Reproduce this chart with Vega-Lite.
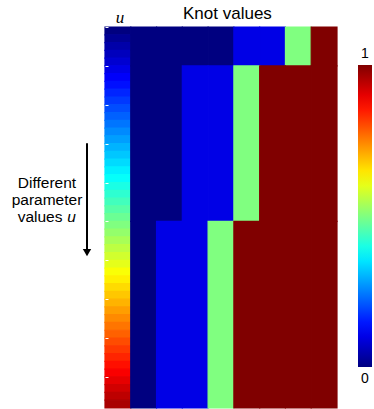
{
  "$schema": "https://vega.github.io/schema/vega-lite/v6.json",
  "width": 232,
  "height": 381,
  "autosize": "none",
  "padding": {"left": 105, "top": 27, "right": 37, "bottom": 1},
  "background": "white",
  "config": {"view": {"stroke": null}, "font": "Liberation Sans"},
  "datasets": {
    "ucol": [
      {"u": 0.00, "u2": 0.02}, {"u": 0.02, "u2": 0.04}, {"u": 0.04, "u2": 0.06}, {"u": 0.06, "u2": 0.08},
      {"u": 0.08, "u2": 0.10}, {"u": 0.10, "u2": 0.12}, {"u": 0.12, "u2": 0.14}, {"u": 0.14, "u2": 0.16},
      {"u": 0.16, "u2": 0.18}, {"u": 0.18, "u2": 0.20}, {"u": 0.20, "u2": 0.22}, {"u": 0.22, "u2": 0.24},
      {"u": 0.24, "u2": 0.26}, {"u": 0.26, "u2": 0.28}, {"u": 0.28, "u2": 0.30}, {"u": 0.30, "u2": 0.32},
      {"u": 0.32, "u2": 0.34}, {"u": 0.34, "u2": 0.36}, {"u": 0.36, "u2": 0.38}, {"u": 0.38, "u2": 0.40},
      {"u": 0.40, "u2": 0.42}, {"u": 0.42, "u2": 0.44}, {"u": 0.44, "u2": 0.46}, {"u": 0.46, "u2": 0.48},
      {"u": 0.48, "u2": 0.50}, {"u": 0.50, "u2": 0.52}, {"u": 0.52, "u2": 0.54}, {"u": 0.54, "u2": 0.56},
      {"u": 0.56, "u2": 0.58}, {"u": 0.58, "u2": 0.60}, {"u": 0.60, "u2": 0.62}, {"u": 0.62, "u2": 0.64},
      {"u": 0.64, "u2": 0.66}, {"u": 0.66, "u2": 0.68}, {"u": 0.68, "u2": 0.70}, {"u": 0.70, "u2": 0.72},
      {"u": 0.72, "u2": 0.74}, {"u": 0.74, "u2": 0.76}, {"u": 0.76, "u2": 0.78}, {"u": 0.78, "u2": 0.80},
      {"u": 0.80, "u2": 0.82}, {"u": 0.82, "u2": 0.84}, {"u": 0.84, "u2": 0.86}, {"u": 0.86, "u2": 0.88},
      {"u": 0.88, "u2": 0.90}, {"u": 0.90, "u2": 0.92}, {"u": 0.92, "u2": 0.94}, {"u": 0.94, "u2": 0.96},
      {"u": 0.96, "u2": 0.98}
    ],
    "knots": [
      {"col": "1", "u": 0, "u2": 0.1, "knot": 0}, {"col": "2", "u": 0, "u2": 0.1, "knot": 0},
      {"col": "3", "u": 0, "u2": 0.1, "knot": 0}, {"col": "4", "u": 0, "u2": 0.1, "knot": 0},
      {"col": "5", "u": 0, "u2": 0.1, "knot": 0.1}, {"col": "6", "u": 0, "u2": 0.1, "knot": 0.1},
      {"col": "7", "u": 0, "u2": 0.1, "knot": 0.5}, {"col": "8", "u": 0, "u2": 0.1, "knot": 1},
      {"col": "1", "u": 0.1, "u2": 0.5, "knot": 0}, {"col": "2", "u": 0.1, "u2": 0.5, "knot": 0},
      {"col": "3", "u": 0.1, "u2": 0.5, "knot": 0.1}, {"col": "4", "u": 0.1, "u2": 0.5, "knot": 0.1},
      {"col": "5", "u": 0.1, "u2": 0.5, "knot": 0.5}, {"col": "6", "u": 0.1, "u2": 0.5, "knot": 1},
      {"col": "7", "u": 0.1, "u2": 0.5, "knot": 1}, {"col": "8", "u": 0.1, "u2": 0.5, "knot": 1},
      {"col": "1", "u": 0.5, "u2": 0.98, "knot": 0}, {"col": "2", "u": 0.5, "u2": 0.98, "knot": 0.1},
      {"col": "3", "u": 0.5, "u2": 0.98, "knot": 0.1}, {"col": "4", "u": 0.5, "u2": 0.98, "knot": 0.5},
      {"col": "5", "u": 0.5, "u2": 0.98, "knot": 1}, {"col": "6", "u": 0.5, "u2": 0.98, "knot": 1},
      {"col": "7", "u": 0.5, "u2": 0.98, "knot": 1}, {"col": "8", "u": 0.5, "u2": 0.98, "knot": 1}
    ],
    "title": [{"label": "Knot values", "x": 4.75, "y": -0.033}],
    "topu": [{"label": "u", "x": 0.58, "y": -0.024}],
    "left": [
      {"label": "Different", "x": -2.25, "y": 0.401},
      {"label": "parameter", "x": -2.25, "y": 0.445},
      {"label": "values", "x": -2.52, "y": 0.489}
    ],
    "leftu": [{"label": "u", "x": -1.3, "y": 0.489}],
    "arrow": [{"x": -0.698, "y": 0.299, "y2": 0.572}],
    "head": [{"x": -0.698, "y": 0.5803}]
  },
  "resolve": {"scale": {"x": "independent"}},
  "layer": [
    {
      "data": {"name": "ucol"},
      "mark": {"type": "rect", "strokeWidth": 1.2, "stroke": {"expr": "scale('color', datum.u)"}},
      "encoding": {
        "x": {"datum": "u", "type": "ordinal", "axis": null,
              "scale": {"domain": ["u", "1", "2", "3", "4", "5", "6", "7", "8"], "paddingInner": 0, "paddingOuter": 0}},
        "y": {"field": "u", "type": "quantitative",
              "scale": {"domain": [0, 0.98], "reverse": true, "nice": false, "zero": false},
              "axis": {"orient": "left", "values": [0, 0.1, 0.2, 0.3, 0.4, 0.5, 0.6, 0.7, 0.8, 0.9],
                       "labels": false, "domain": false, "grid": false, "title": null,
                       "tickColor": "white", "tickSize": -3, "tickWidth": 1, "zindex": 1}},
        "y2": {"field": "u2"},
        "color": {"field": "u", "type": "quantitative",
                  "scale": {"domain": [0, 0.125, 0.375, 0.625, 0.875, 1],
                            "range": ["#000080", "#0000ff", "#00ffff", "#ffff00", "#ff0000", "#800000"],
                            "interpolate": "rgb"},
                  "legend": {"type": "gradient", "title": null, "orient": "none", "direction": "vertical",
                             "legendX": 253, "legendY": 38, "gradientLength": 302, "gradientThickness": 14,
                             "gradientStrokeWidth": 0, "values": [0, 1], "format": "d", "labelOverlap": false,
                             "labelFontSize": 14, "labelFont": "Liberation Sans", "labelColor": "black",
                             "encode": {"labels": {"update": {
                               "x": {"value": 7},
                               "align": {"value": "center"},
                               "baseline": {"value": "alphabetic"},
                               "dy": {"signal": "datum.value > 0.5 ? -7 : 16"}}}}}}
      }
    },
    {
      "data": {"name": "knots"},
      "mark": {"type": "rect", "strokeWidth": 1.2, "stroke": {"expr": "scale('color', datum.knot)"}},
      "encoding": {
        "x": {"field": "col", "type": "ordinal", "axis": null,
              "scale": {"domain": ["u", "1", "2", "3", "4", "5", "6", "7", "8"], "paddingInner": 0, "paddingOuter": 0}},
        "y": {"field": "u", "type": "quantitative", "scale": {"domain": [0, 0.98], "reverse": true, "nice": false, "zero": false}},
        "y2": {"field": "u2"},
        "color": {"field": "knot", "type": "quantitative"}
      }
    },
    {
      "data": {"name": "title"},
      "mark": {"type": "text", "font": "Liberation Sans", "fontSize": 17, "align": "center", "baseline": "middle", "color": "black"},
      "encoding": {
        "x": {"field": "x", "type": "quantitative", "scale": {"domain": [0, 9], "nice": false, "zero": false}, "axis": null},
        "y": {"field": "y", "type": "quantitative"},
        "text": {"field": "label"}
      }
    },
    {
      "data": {"name": "topu"},
      "mark": {"type": "text", "font": "Liberation Serif", "fontStyle": "italic", "fontSize": 17, "align": "center", "baseline": "middle", "color": "black"},
      "encoding": {
        "x": {"field": "x", "type": "quantitative", "scale": {"domain": [0, 9], "nice": false, "zero": false}, "axis": null},
        "y": {"field": "y", "type": "quantitative"},
        "text": {"field": "label"}
      }
    },
    {
      "data": {"name": "left"},
      "mark": {"type": "text", "font": "Liberation Sans", "fontSize": 15.5, "align": "center", "baseline": "middle", "color": "black"},
      "encoding": {
        "x": {"field": "x", "type": "quantitative", "scale": {"domain": [0, 9], "nice": false, "zero": false}, "axis": null},
        "y": {"field": "y", "type": "quantitative"},
        "text": {"field": "label"}
      }
    },
    {
      "data": {"name": "leftu"},
      "mark": {"type": "text", "font": "Liberation Sans", "fontStyle": "italic", "fontSize": 15.5, "align": "center", "baseline": "middle", "color": "black"},
      "encoding": {
        "x": {"field": "x", "type": "quantitative", "scale": {"domain": [0, 9], "nice": false, "zero": false}, "axis": null},
        "y": {"field": "y", "type": "quantitative"},
        "text": {"field": "label"}
      }
    },
    {
      "data": {"name": "arrow"},
      "mark": {"type": "rule", "color": "black", "strokeWidth": 2},
      "encoding": {
        "x": {"field": "x", "type": "quantitative", "scale": {"domain": [0, 9], "nice": false, "zero": false}, "axis": null},
        "y": {"field": "y", "type": "quantitative"},
        "y2": {"field": "y2"}
      }
    },
    {
      "data": {"name": "head"},
      "mark": {"type": "point", "shape": "triangle-down", "filled": true, "color": "black", "size": 70, "opacity": 1},
      "encoding": {
        "x": {"field": "x", "type": "quantitative", "scale": {"domain": [0, 9], "nice": false, "zero": false}, "axis": null},
        "y": {"field": "y", "type": "quantitative"}
      }
    }
  ]
}
